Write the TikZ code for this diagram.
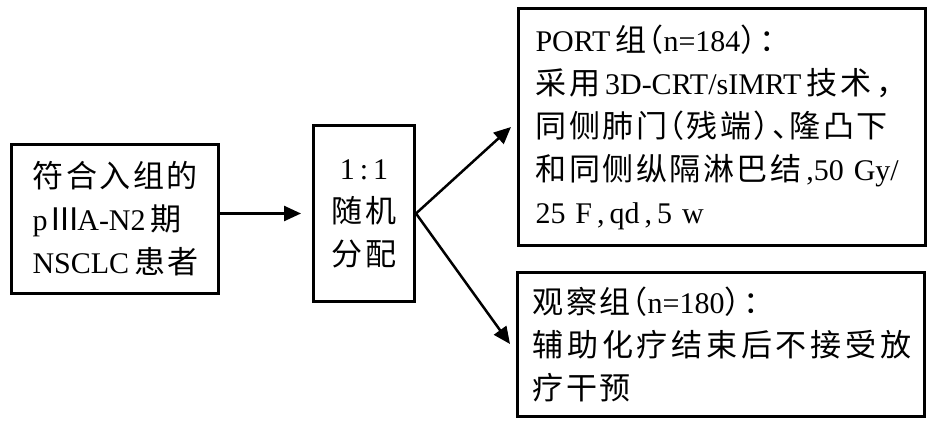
\documentclass[tikz,border=0pt]{standalone}
\usepackage{fontspec}
\setmainfont{Liberation Serif}
\newfontfamily\cjk{Noto Sans CJK SC}[Scale=1.035,LetterSpace=8]
\newfontfamily\cjkwide{Noto Sans CJK SC}[Scale=1.035,LetterSpace=12]
\newcommand\zhs[1]{{\cjk #1}}
\newcommand\zlp{{\cjk\kern-0.45em（}}
\newcommand\zrp{{\cjk ）\kern-0.4em}}
\newcommand\zdun{{\cjk 、\kern-0.45em}}
\usetikzlibrary{arrows.meta}
\begin{document}
\begin{tikzpicture}[x=1pt,y=-1pt,
  boxstyle/.style={draw,line width=3pt,font=\fontsize{30}{43}\selectfont},
  arr/.style={line width=2.5pt,-{Triangle[length=17pt,width=15pt]}}]
\useasboundingbox (0,0) rectangle (939,433);
\node[boxstyle,minimum width=207pt,minimum height=149pt,inner xsep=21pt,text width=165pt,align=left] (b1) at (115,219)
 {\zhs{符合入组的}\\ p\,\zhs{\kern-0.1emⅢ\kern-0.1em}A-N2\,\zhs{期}\\ NSCLC\,\zhs{患者}};
\node[boxstyle,minimum width=101pt,minimum height=176pt,inner sep=2pt,align=center] (b2) at (364,213.5)
 {1\,:\,1\\ \zhs{随机}\\ \zhs{分配}};
\node[boxstyle,minimum width=407pt,minimum height=237pt,inner xsep=17pt,text width=373pt,align=left] (b3) at (722,127)
 {PORT\,\zhs{组}\zlp n=184\zrp\zhs{：}\\
  \zhs{采用}\,3D-CRT/sIMRT\,\zhs{技术}\,\zhs{，}\\
  \zhs{同侧肺门}\zlp\zhs{残端}\zrp\zdun\zhs{隆凸下}\\
  \zhs{和同侧纵隔淋巴结}\,,50~Gy/\\
  25~F\,,\,qd\,,\,5~w};
\node[boxstyle,minimum width=407pt,minimum height=144pt,inner xsep=15pt,text width=377pt,align=left] (b4) at (721,344)
 {\zhs{观察组}\zlp n=180\zrp\zhs{：}\\
  {\cjkwide 辅助化疗结束后不接受放}\\
  \zhs{疗干预}};
\draw[arr] (b1.east |- b2.west) -- ([xshift=-11pt]b2.west);
\draw[arr] (b2.east) -- ([xshift=-6pt]b3.west);
\draw[arr] (b2.east) -- ([xshift=-6pt]b4.west);
\end{tikzpicture}
\end{document}
